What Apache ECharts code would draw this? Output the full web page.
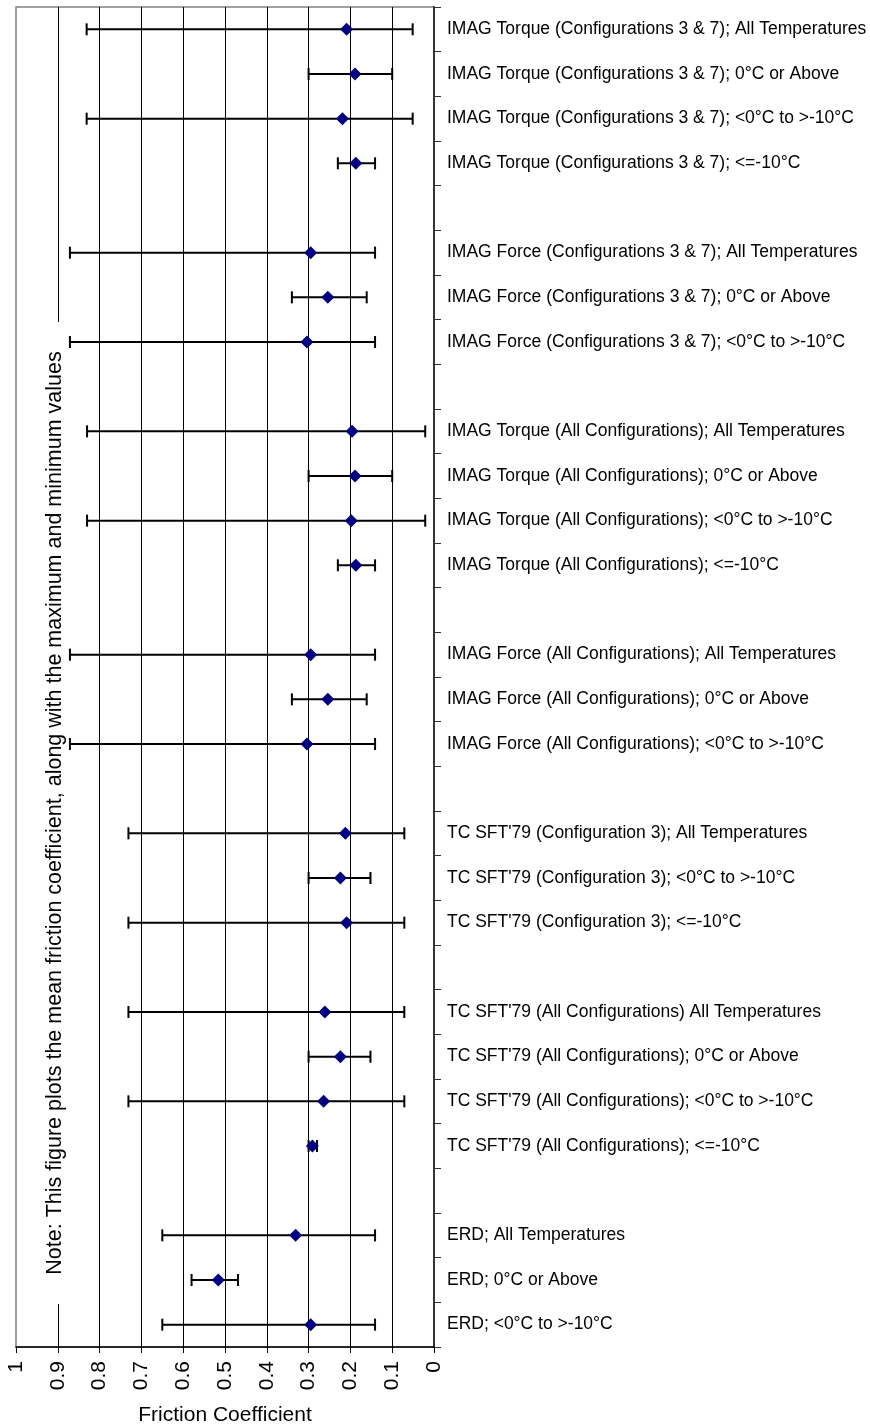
<!DOCTYPE html>
<html>
<head>
<meta charset="utf-8">
<script src="https://cdn.jsdelivr.net/npm/echarts@6/dist/echarts.min.js"></script>
<style>
html,body{margin:0;padding:0;background:#fff;}
#chart{width:870px;height:1428px;}
</style>
</head>
<body>
<div id="chart"></div>
<script>
// Categories from top to bottom (blank entries are spacer rows)
const categories = [
  "IMAG Torque (Configurations 3 & 7); All Temperatures",
  "IMAG Torque (Configurations 3 & 7); 0°C or Above",
  "IMAG Torque (Configurations 3 & 7); <0°C to >-10°C",
  "IMAG Torque (Configurations 3 & 7); <=-10°C",
  "",
  "IMAG Force (Configurations 3 & 7); All Temperatures",
  "IMAG Force (Configurations 3 & 7); 0°C or Above",
  "IMAG Force (Configurations 3 & 7); <0°C to >-10°C",
  "",
  "IMAG Torque (All Configurations); All Temperatures",
  "IMAG Torque (All Configurations); 0°C or Above",
  "IMAG Torque (All Configurations); <0°C to >-10°C",
  "IMAG Torque (All Configurations); <=-10°C",
  "",
  "IMAG Force (All Configurations); All Temperatures",
  "IMAG Force (All Configurations); 0°C or Above",
  "IMAG Force (All Configurations); <0°C to >-10°C",
  "",
  "TC SFT'79 (Configuration 3); All Temperatures",
  "TC SFT'79 (Configuration 3); <0°C to >-10°C",
  "TC SFT'79 (Configuration 3); <=-10°C",
  "",
  "TC SFT'79 (All Configurations) All Temperatures",
  "TC SFT'79 (All Configurations); 0°C or Above",
  "TC SFT'79 (All Configurations); <0°C to >-10°C",
  "TC SFT'79 (All Configurations); <=-10°C",
  "",
  "ERD; All Temperatures",
  "ERD; 0°C or Above",
  "ERD; <0°C to >-10°C"
];
const meanValues = [
  0.209, 0.189, 0.219, 0.187, null,
  0.295, 0.254, 0.304, null,
  0.196, 0.189, 0.198, 0.187, null,
  0.295, 0.254, 0.304, null,
  0.212, 0.224, 0.209, null,
  0.261, 0.224, 0.264, 0.291, null,
  0.331, 0.516, 0.295
];
const maxValues = [
  0.831, 0.300, 0.831, 0.230, null,
  0.871, 0.340, 0.871, null,
  0.830, 0.300, 0.830, 0.230, null,
  0.871, 0.340, 0.871, null,
  0.731, 0.300, 0.731, null,
  0.731, 0.300, 0.731, 0.300, null,
  0.650, 0.580, 0.650
];
const minValues = [
  0.051, 0.100, 0.051, 0.141, null,
  0.141, 0.161, 0.141, null,
  0.021, 0.100, 0.021, 0.141, null,
  0.141, 0.161, 0.141, null,
  0.071, 0.152, 0.071, null,
  0.071, 0.152, 0.071, 0.280, null,
  0.141, 0.469, 0.141
];
const xTickLabels = ["0","0.1","0.2","0.3","0.4","0.5","0.6","0.7","0.8","0.9","1"];
const xTitle = "Friction Coefficient";
const noteText = "Note: This figure plots the mean friction coefficient, along with the maximum and minimum values";

const FONT = "'Liberation Sans', Arial, sans-serif";

const meanData = [];
const barData = [];
categories.forEach((c, i) => {
  if (meanValues[i] != null) meanData.push([meanValues[i], i]);
  if (maxValues[i] != null) barData.push([i, maxValues[i], minValues[i]]);
});

const chart = echarts.init(document.getElementById('chart'), null, {renderer: 'canvas'});
chart.setOption({
  animation: false,
  backgroundColor: '#fff',
  grid: {
    left: 16, right: 436, top: 7, bottom: 81,
    containLabel: false, outerBoundsMode: 'none',
    show: true, borderColor: '#808080', borderWidth: 1.5, backgroundColor: 'transparent'
  },
  xAxis: {
    type: 'value', min: 0, max: 1, interval: 0.1, inverse: true,
    name: xTitle, nameLocation: 'middle', nameGap: 58,
    nameTextStyle: {fontFamily: FONT, fontSize: 21, color: '#000'},
    axisLine: {show: true, onZero: false, lineStyle: {color: '#000', width: 1.5}},
    axisTick: {show: true, length: 6, inside: false, lineStyle: {color: '#000', width: 1}},
    axisLabel: {
      rotate: 90, margin: 14, fontFamily: FONT, fontSize: 21, color: '#000',
      formatter: v => xTickLabels[Math.round(v * 10)]
    },
    splitLine: {show: true, showMinLine: false, showMaxLine: false, lineStyle: {color: '#000', width: 1}}
  },
  yAxis: {
    type: 'category', data: categories, inverse: true, position: 'right', boundaryGap: true,
    axisLine: {show: true, lineStyle: {color: '#333', width: 2}},
    axisTick: {show: true, length: 7, inside: false, alignWithLabel: false, lineStyle: {color: '#333', width: 1}},
    axisLabel: {margin: 13, fontFamily: FONT, fontSize: 17.5, color: '#000', interval: 0},
    splitLine: {show: false}
  },
  graphic: [
    {type: 'rect', shape: {x: 34, y: 322, width: 46, height: 982}, style: {fill: '#fff'}, z: 5},
    {type: 'text', x: 55, y: 813, rotation: Math.PI / 2, z: 6,
     style: {text: noteText, fontFamily: FONT, fontSize: 21.5, fill: '#000', align: 'center', verticalAlign: 'middle'}}
  ],
  series: [
    {
      type: 'custom', name: 'range', data: barData, z: 10,
      encode: {x: [1, 2], y: 0},
      renderItem: function (params, api) {
        const yi = api.value(0);
        const p1 = api.coord([api.value(1), yi]);
        const p2 = api.coord([api.value(2), yi]);
        const h = 6;
        const st = {stroke: '#000', lineWidth: 2};
        return {
          type: 'group',
          children: [
            {type: 'line', shape: {x1: p1[0], y1: p1[1], x2: p2[0], y2: p2[1]}, style: st},
            {type: 'line', shape: {x1: p1[0], y1: p1[1] - h, x2: p1[0], y2: p1[1] + h}, style: st},
            {type: 'line', shape: {x1: p2[0], y1: p2[1] - h, x2: p2[0], y2: p2[1] + h}, style: st}
          ]
        };
      }
    },
    {
      type: 'scatter', name: 'mean', data: meanData, z: 20,
      symbol: 'diamond', symbolSize: [13, 13],
      itemStyle: {color: '#000080', opacity: 1}
    }
  ]
});
</script>
</body>
</html>
